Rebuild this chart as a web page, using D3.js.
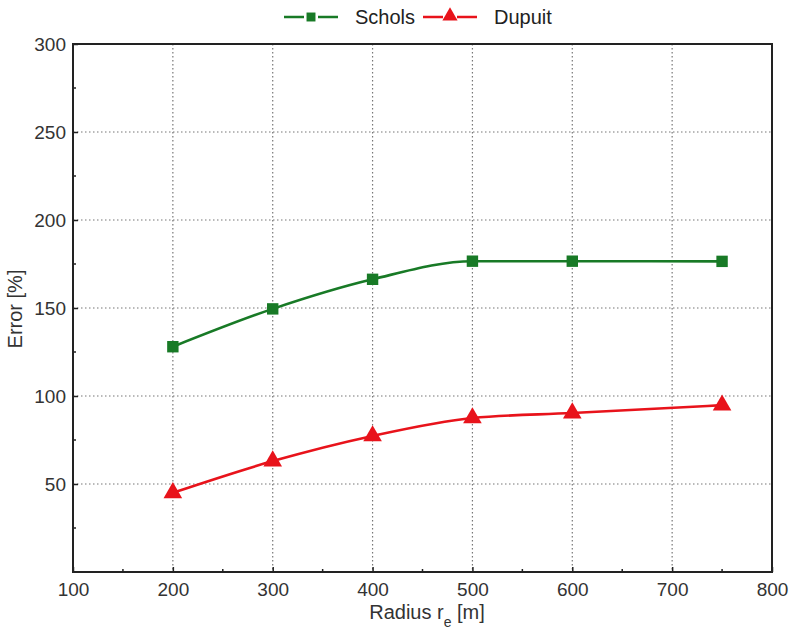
<!DOCTYPE html>
<html><head><meta charset="utf-8">
<script src="https://cdn.jsdelivr.net/npm/d3@7"></script>
<style>body{margin:0;background:#fff;} text{font-family:"Liberation Sans",Arial,sans-serif;}</style>
</head><body>
<svg id="c" width="790" height="630"></svg>
<script>
const radius = [200, 300, 400, 500, 600, 750];
const schols = [128, 149.5, 166.3, 176.6, 176.6, 176.5];
const dupuit = [45, 63, 77.3, 87.5, 90.3, 94.8];
const xTicks = [100, 200, 300, 400, 500, 600, 700, 800];
const yTicks = [50, 100, 150, 200, 250, 300];
const seriesNames = ["Schols", "Dupuit"];
const colors = ["#187a26", "#e8131b"];

const svg = d3.select("#c");
const L = 73, R = 772, T = 44, B = 572;
const x = d3.scaleLinear().domain([100, 800]).range([L, R]);
const y = d3.scaleLinear().domain([0, 300]).range([B, T]);

// grid
const g = svg.append("g");
g.selectAll(".vg").data(xTicks.slice(1, -1)).enter().append("line")
  .attr("x1", d => x(d)).attr("x2", d => x(d)).attr("y1", T).attr("y2", B)
  .attr("stroke", "#777").attr("stroke-width", 1.2).attr("stroke-dasharray", "1.5,2.5");
g.selectAll(".hg").data(yTicks.slice(0, -1)).enter().append("line")
  .attr("x1", L).attr("x2", R).attr("y1", d => y(d)).attr("y2", d => y(d))
  .attr("stroke", "#777").attr("stroke-width", 1.2).attr("stroke-dasharray", "1.5,2.5");

// axes
const xAxis = d3.axisBottom(x).tickValues(xTicks).tickSizeInner(-5).tickSizeOuter(0).tickPadding(11);
const yAxis = d3.axisLeft(y).tickValues(yTicks).tickSizeInner(-5).tickSizeOuter(0).tickPadding(7);
const ax = svg.append("g").attr("transform", `translate(0,${B})`).call(xAxis);
const ay = svg.append("g").attr("transform", `translate(${L},0)`).call(yAxis);
[ax, ay].forEach(a => {
  a.select(".domain").remove();
  a.selectAll(".tick line").attr("stroke", "#222").attr("stroke-width", 1.5);
  a.selectAll(".tick text").attr("font-size", 19).attr("fill", "#333")
    .style("font-family", '"Liberation Sans",Arial,sans-serif');
});
// minor ticks
const xMinor = d3.range(150, 800, 100);
svg.selectAll(".xm").data(xMinor).enter().append("line")
  .attr("x1", d => x(d)).attr("x2", d => x(d)).attr("y1", B).attr("y2", B - 3)
  .attr("stroke", "#222").attr("stroke-width", 1.5);
const yMinor = d3.range(25, 300, 50);
svg.selectAll(".ym").data(yMinor).enter().append("line")
  .attr("x1", L).attr("x2", L + 3).attr("y1", d => y(d)).attr("y2", d => y(d))
  .attr("stroke", "#222").attr("stroke-width", 1.5);

// frame
svg.append("rect").attr("x", L).attr("y", T).attr("width", R - L).attr("height", B - T)
  .attr("fill", "none").attr("stroke", "#222").attr("stroke-width", 2);

// lines
const line = d3.line().x((d, i) => x(radius[i])).y(d => y(d)).curve(d3.curveMonotoneX);
[schols, dupuit].forEach((s, k) => {
  svg.append("path").attr("d", line(s)).attr("fill", "none")
    .attr("stroke", colors[k]).attr("stroke-width", 2.6);
});
const sq = d3.symbol().type(d3.symbolSquare).size(130);
const tri = d3.symbol().type(d3.symbolTriangle).size(150);
svg.selectAll(".sm").data(schols).enter().append("path")
  .attr("d", sq).attr("transform", (d, i) => `translate(${x(radius[i])},${y(d)})`)
  .attr("fill", colors[0]);
svg.selectAll(".tm").data(dupuit).enter().append("path")
  .attr("d", tri).attr("transform", (d, i) => `translate(${x(radius[i])},${y(d)})`)
  .attr("fill", colors[1]);

// axis titles
svg.append("text").attr("x", 427).attr("y", 619).attr("text-anchor", "middle")
  .attr("font-size", 20).attr("fill", "#333")
  .html('Radius r<tspan baseline-shift="sub" font-size="14">e</tspan> [m]');
svg.append("text").attr("transform", `translate(22,${(T + B) / 2 + 1}) rotate(-90)`)
  .attr("text-anchor", "middle").attr("font-size", 20).attr("fill", "#333").text("Error [%]");

// legend
const lg = svg.append("g");
const items = [{x0: 284}, {x0: 423}];
items.forEach((it, k) => {
  lg.append("line").attr("x1", it.x0).attr("x2", it.x0 + 20).attr("y1", 17).attr("y2", 17)
    .attr("stroke", colors[k]).attr("stroke-width", 2.5);
  lg.append("line").attr("x1", it.x0 + 34).attr("x2", it.x0 + 54).attr("y1", 17).attr("y2", 17)
    .attr("stroke", colors[k]).attr("stroke-width", 2.5);
  lg.append("path").attr("d", k === 0 ? d3.symbol().type(d3.symbolSquare).size(80)() : d3.symbol().type(d3.symbolTriangle).size(100)())
    .attr("transform", `translate(${it.x0 + 27},${k === 0 ? 17 : 16})`).attr("fill", colors[k]);
  lg.append("text").attr("x", it.x0 + 71).attr("y", 24).attr("font-size", 20).attr("fill", "#222")
    .text(seriesNames[k]);
});
</script>
</body></html>
